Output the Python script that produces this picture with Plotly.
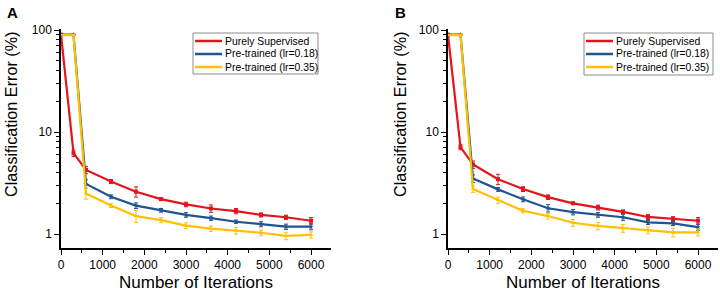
import plotly.graph_objects as go

iterations = [0, 300, 600, 1200, 1800, 2400, 3000, 3600, 4200, 4800, 5400, 6000]

# Panel A
a_sup = [90, 6.2, 4.25, 3.27, 2.6, 2.2, 1.95, 1.78, 1.68, 1.54, 1.46, 1.35]
a_sup_err = [0, 0.45, 0.35, 0.15, 0.3, 0.07, 0.1, 0.15, 0.1, 0.07, 0.07, 0.1]
a_pt18 = [90, 90, 3.1, 2.32, 1.9, 1.71, 1.54, 1.43, 1.32, 1.25, 1.18, 1.18]
a_pt18_err = [0, 0, 0.3, 0.1, 0.12, 0.07, 0.08, 0.07, 0.05, 0.07, 0.07, 0.08]
a_pt35 = [89, 89, 2.5, 1.9, 1.5, 1.37, 1.21, 1.13, 1.08, 1.03, 0.96, 0.98]
a_pt35_err = [0, 0, 0.3, 0.08, 0.2, 0.08, 0.08, 0.07, 0.08, 0.06, 0.08, 0.07]

# Panel B
b_sup = [90, 7.1, 4.8, 3.45, 2.76, 2.3, 2.0, 1.82, 1.65, 1.47, 1.4, 1.35]
b_sup_err = [0, 0.4, 0.4, 0.4, 0.15, 0.12, 0.05, 0.1, 0.07, 0.08, 0.08, 0.1]
b_pt18 = [90, 90, 3.5, 2.74, 2.19, 1.79, 1.64, 1.54, 1.46, 1.3, 1.27, 1.17]
b_pt18_err = [0, 0, 0.3, 0.12, 0.12, 0.15, 0.1, 0.08, 0.1, 0.06, 0.06, 0.08]
b_pt35 = [89, 89, 2.76, 2.15, 1.69, 1.5, 1.29, 1.2, 1.14, 1.09, 1.04, 1.04]
b_pt35_err = [0, 0, 0.2, 0.15, 0.08, 0.1, 0.1, 0.1, 0.1, 0.08, 0.1, 0.08]

series_names = ["Purely Supervised", "Pre-trained (lr=0.18)", "Pre-trained (lr=0.35)"]
colors = ["#E3141C", "#1F5492", "#FFC000"]
symbols = ["square", "star", "triangle-up"]

panels = [
    ("x", "y", [a_sup, a_pt18, a_pt35], [a_sup_err, a_pt18_err, a_pt35_err]),
    ("x2", "y2", [b_sup, b_pt18, b_pt35], [b_sup_err, b_pt18_err, b_pt35_err]),
]

fig = go.Figure()
for xa, ya, vals, errs in panels:
    for name, col, sym, v, e in zip(series_names, colors, symbols, vals, errs):
        fig.add_trace(go.Scatter(
            x=iterations, y=v, name=name, xaxis=xa, yaxis=ya, showlegend=False,
            mode="lines+markers",
            line=dict(color=col, width=2.2),
            marker=dict(color=col, size=4, symbol=sym),
            error_y=dict(type="data", array=e, color=col, thickness=1, width=2),
        ))

font_family = "Liberation Sans, Arial, sans-serif"
minor_y = [v * d for d in (1, 10) for v in range(2, 10)]

def xaxis(domain, anchor):
    return dict(
        domain=domain, anchor=anchor, range=[0, 6480], automargin=False,
        tickvals=[0, 1000, 2000, 3000, 4000, 5000, 6000],
        ticks="outside", ticklen=5, tickwidth=1, tickcolor="black",
        minor=dict(tickvals=[500, 1500, 2500, 3500, 4500, 5500, 6500], ticks="outside", ticklen=3, tickcolor="black"),
        showline=True, linecolor="black", linewidth=1.5, showgrid=False, zeroline=False,
        tickfont=dict(size=12, color="black"),
        title=dict(text="Number of Iterations", font=dict(size=17, color="black"), standoff=9),
    )

def yaxis(domain, anchor):
    return dict(
        domain=domain, anchor=anchor, type="log", range=[-0.137, 2.01], automargin=False,
        tickvals=[1, 10, 100], ticktext=["1", "10", "100"],
        ticks="outside", ticklen=5, tickwidth=1, tickcolor="black",
        minor=dict(tickvals=minor_y, ticks="outside", ticklen=3, tickcolor="black"),
        showline=True, linecolor="black", linewidth=1.5, showgrid=False, zeroline=False,
        tickfont=dict(size=12, color="black"),
    )

W, H = 720, 292
def px(x):
    return x / W
def py(y):
    return 1 - y / H

shapes = []
annotations = []

# Hand-drawn legend boxes for each panel
for (bx0, by0, bx1, by1) in [(193, 33, 318, 74), (584, 33, 713, 75)]:
    shapes.append(dict(type="rect", xref="paper", yref="paper",
                       x0=px(bx0), x1=px(bx1), y0=py(by1), y1=py(by0),
                       line=dict(color="#8C8C8C", width=1), fillcolor="white", layer="above"))
    for i, (name, col) in enumerate(zip(series_names, colors)):
        yy = by0 + 8 + i * 13
        shapes.append(dict(type="line", xref="paper", yref="paper",
                           x0=px(bx0 + 2), x1=px(bx0 + 29), y0=py(yy), y1=py(yy),
                           line=dict(color=col, width=2.5), layer="above"))
        annotations.append(dict(text=name, x=px(bx0 + 30), y=py(yy), xref="paper", yref="paper",
                                xanchor="left", yanchor="middle", showarrow=False,
                                font=dict(size=10.4, color="black")))

# Y-axis titles (placed like the original, above the axis centre)
for cx in (11, 400):
    annotations.append(dict(text="Classification Error (%)", x=px(cx), y=py(114),
                            xref="paper", yref="paper", textangle=-90,
                            xanchor="center", yanchor="middle", showarrow=False,
                            font=dict(size=16.2, color="black")))

annotations += [
    dict(text="<b>A</b>", x=px(5), y=py(2), xref="paper", yref="paper",
         xanchor="left", yanchor="top", showarrow=False, font=dict(size=15, color="black")),
    dict(text="<b>B</b>", x=px(393), y=py(2), xref="paper", yref="paper",
         xanchor="left", yanchor="top", showarrow=False, font=dict(size=15, color="black")),
]

fig.update_layout(
    width=W, height=H,
    margin=dict(l=0, r=0, t=0, b=0, autoexpand=False),
    paper_bgcolor="white", plot_bgcolor="white",
    font=dict(family=font_family, color="black"),
    showlegend=False,
    xaxis=xaxis([61 / W, 331 / W], "y"),
    yaxis=yaxis([1 - 248 / H, 1 - 29 / H], "x"),
    xaxis2=xaxis([448 / W, 718 / W], "y2"),
    yaxis2=yaxis([1 - 248 / H, 1 - 29 / H], "x2"),
    shapes=shapes,
    annotations=annotations,
)

fig.write_html("out.html", config={"displayModeBar": False},
               post_script="document.body.style.margin='0';document.body.style.overflow='hidden';")
